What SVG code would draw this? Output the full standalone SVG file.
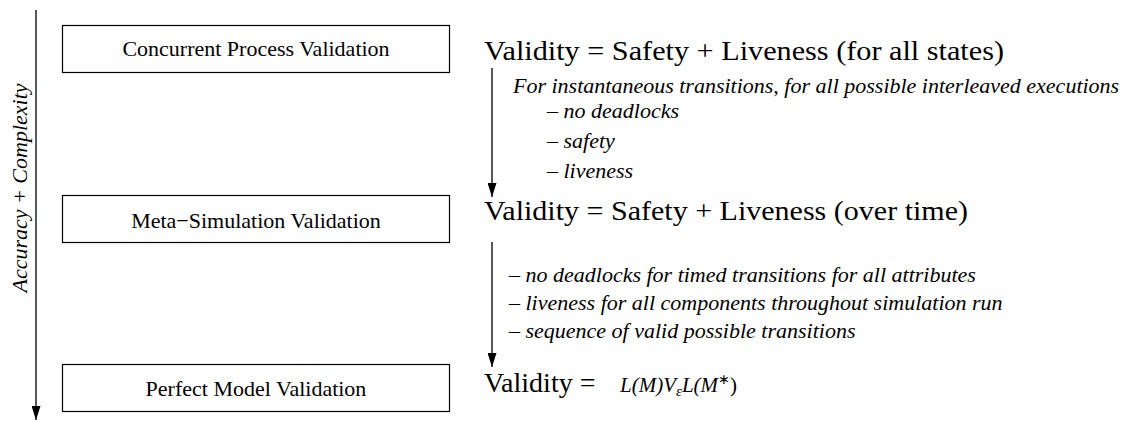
<svg xmlns="http://www.w3.org/2000/svg" width="1133" height="421" viewBox="0 0 1133 421">
<style>
.box{fill:#fff;stroke:#000;stroke-width:1.2}
.ln{stroke:#000;stroke-width:1.3;fill:none}
</style>
<defs>
<marker id="ar" markerWidth="14" markerHeight="9" refX="14" refY="4.5" orient="auto" markerUnits="userSpaceOnUse" viewBox="0 0 14 9">
<path d="M0,0 L14,4.5 L0,9 Z" fill="#000"/>
</marker>
</defs>
<g id="connectors">
<line class="ln" x1="36" y1="10" x2="36" y2="420" marker-end="url(#ar)"/>
<line class="ln" x1="492" y1="68" x2="492" y2="197" marker-end="url(#ar)"/>
<line class="ln" x1="492" y1="242" x2="492" y2="367" marker-end="url(#ar)"/>
</g>
<g font-family="Liberation Serif" fill="#000">
<g id="axis-label">
<text font-family="Liberation Serif" font-style="italic" font-size="22" transform="translate(27 188) rotate(-90)" text-anchor="middle">Accuracy + Complexity</text>
</g>
<g id="node-concurrent">
<rect class="box" x="62.5" y="25.5" width="387" height="47"/>
<text font-family="Liberation Serif" font-size="22" text-anchor="middle" x="256" y="56">Concurrent Process Validation</text>
</g>
<g id="node-meta">
<rect class="box" x="62.5" y="195.5" width="387" height="47"/>
<text font-family="Liberation Serif" font-size="22" text-anchor="middle" x="256" y="228">Meta−Simulation Validation</text>
</g>
<g id="node-perfect">
<rect class="box" x="62.5" y="364.5" width="387" height="47"/>
<text font-family="Liberation Serif" font-size="22" text-anchor="middle" x="256" y="396">Perfect Model Validation</text>
</g>
<g id="desc-concurrent">
<text font-family="Liberation Serif" font-size="28" x="484" y="60" textLength="520" lengthAdjust="spacingAndGlyphs">Validity = Safety + Liveness (for all states)</text>
<g font-family="Liberation Serif" font-size="22" font-style="italic">
<text x="513" y="93">For instantaneous transitions, for all possible interleaved executions</text>
<text x="547" y="118">– no deadlocks</text>
<text x="547" y="148">– safety</text>
<text x="547" y="178">– liveness</text>
</g>
</g>
<g id="desc-meta">
<text font-family="Liberation Serif" font-size="28" x="484" y="220" textLength="484" lengthAdjust="spacingAndGlyphs">Validity = Safety + Liveness (over time)</text>
<g font-family="Liberation Serif" font-size="22" font-style="italic">
<text x="509" y="282">– no deadlocks for timed transitions for all attributes</text>
<text x="509" y="310">– liveness for all components throughout simulation run</text>
<text x="509" y="338">– sequence of valid possible transitions</text>
</g>
</g>
<g id="desc-perfect">
<text font-family="Liberation Serif" font-size="28" x="484" y="392">Validity =</text>
<text font-family="Liberation Serif" font-size="21" font-style="italic" x="620" y="392">L(M)V<tspan font-size="15" dy="4">ε</tspan><tspan dy="-4">L(M</tspan><tspan font-size="14" dy="-8" font-style="normal">∗</tspan><tspan dy="8" font-style="normal">)</tspan></text>
</g>
</g>
</svg>
